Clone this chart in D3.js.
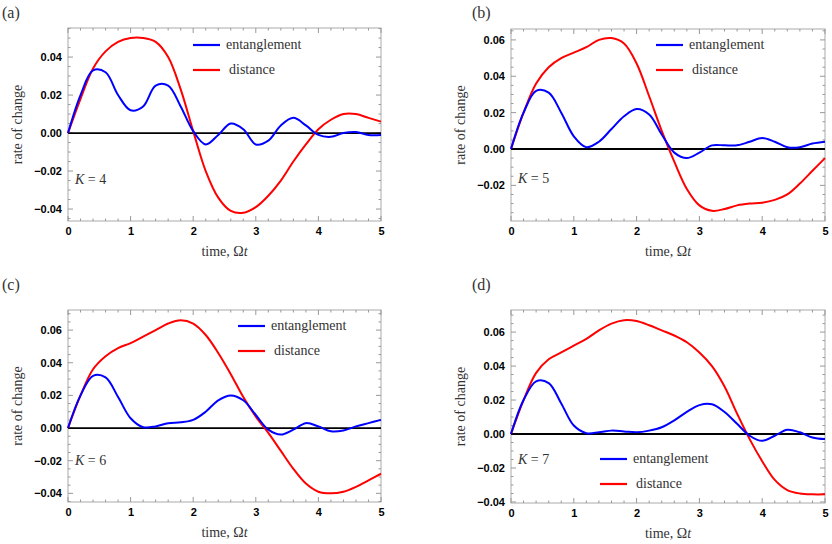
<!DOCTYPE html>
<html>
  <head>
    <meta charset="utf-8">
    <script src="https://cdn.jsdelivr.net/npm/d3@7/dist/d3.min.js"></script>
    <style>
      body { margin: 0; background: #fff; }
      .tick text { font-family: "Liberation Sans", Arial, sans-serif; font-weight: bold; font-size: 11px; }
    </style>
  </head>
  <body>
    <svg width="832" height="544"></svg>
    <script>

      // time samples, step 0.2
      const times = d3.range(26).map(i => +(i * 0.2).toFixed(1));

      const entA = [0,.020,.033,.032,.020,.012,.014,.025,.025,.014,.001,-.006,-.001,.005,.002,-.006,-.004,.004,.008,.004,-.001,-.002,0,.0005,-.001,-.001];
      const distA = [0,.018,.034,.043,.048,.050,.050,.048,.040,.023,.001,-.020,-.034,-.041,-.042,-.039,-.033,-.025,-.015,-.006,.002,.007,.010,.010,.008,.006];

      const entB = [0,.020,.032,.031,.020,.007,.001,.004,.011,.018,.022,.019,.008,-.002,-.005,-.002,.002,.002,.002,.004,.006,.004,.001,.001,.003,.004];
      const distB = [0,.020,.036,.045,.050,.053,.056,.060,.061,.058,.047,.029,.010,-.007,-.022,-.031,-.034,-.033,-.031,-.030,-.0295,-.028,-.025,-.019,-.012,-.005];

      const entC = [0,.020,.032,.031,.019,.006,.0005,.001,.003,.0035,.005,.010,.017,.020,.017,.008,-.001,-.004,-.001,.003,.001,-.002,-.0015,.001,.003,.005];
      const distC = [0,.020,.036,.044,.049,.052,.056,.060,.064,.066,.064,.057,.046,.033,.019,.007,-.003,-.014,-.025,-.034,-.039,-.040,-.039,-.036,-.032,-.028];

      const entD = [0,.020,.031,.030,.018,.005,.0005,.001,.002,.0015,.001,.002,.004,.008,.013,.017,.0175,.013,.006,-.001,-.004,-.001,.0025,.001,-.002,-.003];
      const distD = [0,.020,.036,.044,.048,.052,.056,.061,.065,.067,.0665,.064,.061,.058,.054,.048,.040,.028,.012,-.003,-.016,-.027,-.033,-.035,-.0355,-.0355];

      const panelNames = ["(a)", "(b)", "(c)", "(d)"];
      const kValues = [4, 5, 6, 7];
      const yDomains = [[-0.0463, 0.0553], [-0.0396, 0.066], [-0.0453, 0.0723], [-0.0406, 0.073]];
      const yTickVals = [[-0.04,-0.02,0,0.02,0.04], [-0.02,0,0.02,0.04,0.06], [-0.04,-0.02,0,0.02,0.04,0.06], [-0.04,-0.02,0,0.02,0.04,0.06]];

      const panels = [
        { ent: entA, dist: distA, ox: 0,   oy: 0,   top: 28,  bottom: 221, left: 68,  right: 381, legX: 193, legY: 45, kY: 179 },
        { ent: entB, dist: distB, ox: 416, oy: 0,   top: 29,  bottom: 221, left: 95,  right: 409, legX: 240, legY: 45, kY: 178 },
        { ent: entC, dist: distC, ox: 0,   oy: 272, top: 38,  bottom: 230, left: 68,  right: 381, legX: 238, legY: 54, kY: 188 },
        { ent: entD, dist: distD, ox: 416, oy: 272, top: 38,  bottom: 231, left: 95,  right: 409, legX: 184, legY: 187, kY: 187 }
      ];

      const serif = '"Liberation Serif", "DejaVu Serif", serif';
      const svg = d3.select("svg");
      const fmt = d => d === 0 ? "0.00" : d3.format(".2f")(d).replace("-", "\u2212");

      const label = (g, x, y, size) => g.append("text")
        .attr("x", x).attr("y", y)
        .attr("font-family", serif).attr("font-size", size || 14).attr("fill", "#333");

      panels.forEach((p, i) => {
        const g = svg.append("g").attr("transform", `translate(${p.ox},${p.oy})`);
        const x = d3.scaleLinear().domain([0, 5]).range([p.left, p.right]);
        const y = d3.scaleLinear().domain(yDomains[i]).range([p.bottom, p.top]);

        g.append("rect")
          .attr("x", p.left).attr("y", p.top)
          .attr("width", p.right - p.left).attr("height", p.bottom - p.top)
          .attr("fill", "none").attr("stroke", "#aaa");

        // ticks inside the frame
        const minorX = d3.range(0, 5.01, 0.2);
        const minorY = d3.range(-0.045, 0.075, 0.005).filter(v => v >= yDomains[i][0] && v <= yDomains[i][1]);
        const tk = g.append("g").attr("stroke", "#999");
        minorX.forEach(v => {
          const len = Math.abs(v - Math.round(v)) < 1e-6 ? 5 : 2.5;
          tk.append("line").attr("x1", x(v)).attr("x2", x(v)).attr("y1", p.bottom).attr("y2", p.bottom - len);
          tk.append("line").attr("x1", x(v)).attr("x2", x(v)).attr("y1", p.top).attr("y2", p.top + len);
        });
        minorY.forEach(v => {
          const major = Math.abs(v / 0.02 - Math.round(v / 0.02)) < 1e-6;
          const len = major ? 5 : 2.5;
          tk.append("line").attr("y1", y(v)).attr("y2", y(v)).attr("x1", p.left).attr("x2", p.left + len);
          tk.append("line").attr("y1", y(v)).attr("y2", y(v)).attr("x1", p.right).attr("x2", p.right - len);
        });

        g.append("g").attr("transform", `translate(0,${p.bottom})`)
          .call(d3.axisBottom(x).tickValues([0,1,2,3,4,5]).tickFormat(d3.format("d")).tickSize(0).tickPadding(6))
          .call(a => a.select(".domain").remove());
        g.append("g").attr("transform", `translate(${p.left},0)`)
          .call(d3.axisLeft(y).tickValues(yTickVals[i]).tickFormat(fmt).tickSize(0).tickPadding(6))
          .call(a => a.select(".domain").remove());

        g.append("line")
          .attr("x1", x(0)).attr("x2", x(5)).attr("y1", y(0)).attr("y2", y(0))
          .attr("stroke", "#000").attr("stroke-width", 1.8);

        const line = d3.line().x((d, j) => x(times[j])).y(d => y(d)).curve(d3.curveCatmullRom.alpha(0.5));
        g.append("path").datum(p.dist).attr("d", line).attr("fill", "none").attr("stroke", "#f00").attr("stroke-width", 2);
        g.append("path").datum(p.ent).attr("d", line).attr("fill", "none").attr("stroke", "#00f").attr("stroke-width", 2);

        // legend
        [["entanglement", "#00f"], ["distance", "#f00"]].forEach(([name, c], k) => {
          const ly = p.legY + k * 25;
          g.append("line").attr("x1", p.legX).attr("x2", p.legX + 27).attr("y1", ly).attr("y2", ly)
            .attr("stroke", c).attr("stroke-width", 2.2);
          label(g, p.legX + 33 + k * 3, ly + 4).text(name);
        });

        label(g, p.left + 7, p.kY + 5)
          .html(`<tspan font-style="italic">K</tspan> = ${kValues[i]}`);

        label(g, p.left - 66 + (i % 2 ? 27 : 0), 18, 16).text(panelNames[i]);

        label(g, 0, 0)
          .attr("transform", `translate(${p.left - 46},${(p.top + p.bottom) / 2}) rotate(-90)`)
          .attr("text-anchor", "middle").text("rate of change");

        label(g, (p.left + p.right) / 2, p.bottom + 35)
          .attr("text-anchor", "middle")
          .html(`time, \u03A9<tspan font-style="italic">t</tspan>`);
      });

    </script>
  </body>
</html>
